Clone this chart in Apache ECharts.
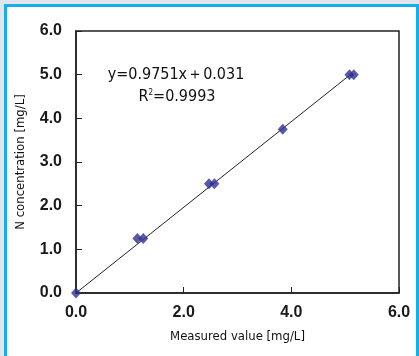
<!DOCTYPE html>
<html>
<head>
<meta charset="utf-8">
<script src="https://cdn.jsdelivr.net/npm/echarts@6/dist/echarts.min.js"></script>
<style>
  html, body { margin: 0; padding: 0; background: #dfe5ea; }
  #frame {
    position: absolute; left: 4px; top: 4px; width: 409px; height: 349px;
    border: 3px solid #17aee8; background: #fff;
  }
  #cht { position: absolute; left: -7px; top: -7px; width: 419px; height: 356px; }
</style>
</head>
<body>
<div id="frame"><div id="cht"></div></div>
<script>
const cht = echarts.init(document.getElementById('cht'));

// measured value vs. N concentration
const measured = [0.0, 1.14, 1.25, 2.47, 2.57, 3.84, 5.08, 5.16];
const nConc = [0.0, 1.25, 1.25, 2.5, 2.5, 3.75, 5.0, 5.0];
const slope = 0.9751;
const intercept = 0.031;
const fitRange = [0.0, 5.12];
const ticks = ['0.0', '1.0', '2.0', '3.0', '4.0', '5.0', '6.0'];

const points = measured.map((x, i) => [x, nConc[i]]);
const fitLine = [[fitRange[0], 0], [fitRange[1], slope * fitRange[1] + intercept]];

const cond = '"DejaVu Sans Condensed", "Liberation Sans", sans-serif';
const labelFont = { fontFamily: 'Liberation Sans', fontWeight: 'bold', fontSize: 16, color: '#1a1a1a' };
const nameFont = { fontFamily: cond, fontSize: 13, color: '#111' };

cht.setOption({
  animation: false,
  grid: {
    left: 76, right: 20, top: 31, bottom: 63,
    show: true, borderColor: '#222', borderWidth: 1.5,
  },
  xAxis: {
    type: 'value', min: 0, max: 6, interval: 2,
    name: 'Measured value [mg/L]', nameLocation: 'middle', nameGap: 37,
    nameTextStyle: nameFont,
    axisLine: { show: true, lineStyle: { color: '#222', width: 1.5 } },
    axisTick: { show: true, inside: true, length: 6, lineStyle: { color: '#222' } },
    axisLabel: Object.assign({ margin: 12, formatter: v => v.toFixed(1) }, labelFont),
    splitLine: { show: false },
  },
  yAxis: {
    type: 'value', min: 0, max: 6, interval: 1,
    name: 'N concentration [mg/L]', nameLocation: 'middle', nameGap: 49,
    nameTextStyle: nameFont,
    axisLine: { show: true, lineStyle: { color: '#222', width: 1.5 } },
    axisTick: { show: true, inside: true, length: 6, lineStyle: { color: '#222' } },
    axisLabel: Object.assign({ margin: 14, formatter: v => ticks[v] }, labelFont),
    splitLine: { show: false },
  },
  graphic: [
    {
      type: 'text', x: 176, y: 75,
      style: {
        text: 'y=0.9751x＋0.031', font: '16px ' + cond,
        fill: '#111', align: 'center', verticalAlign: 'middle',
      },
    },
    {
      type: 'text', x: 177, y: 97,
      style: {
        text: '{r|R}{s|2}{r|=0.9993}',
        fill: '#111', align: 'center', verticalAlign: 'middle',
        rich: {
          r: { fontFamily: cond, fontSize: 16, color: '#111' },
          s: { fontFamily: cond, fontSize: 8, color: '#111', verticalAlign: 'top', padding: [0, 0, 9, 0] },
        },
      },
    },
  ],
  series: [
    {
      type: 'line',
      data: fitLine,
      showSymbol: false,
      lineStyle: { color: '#222', width: 1 },
      z: 2,
    },
    {
      type: 'scatter',
      data: points,
      symbol: 'diamond',
      symbolSize: [10, 11],
      itemStyle: { color: '#2e3192' },
      z: 3,
    },
  ],
});

window.onresize = () => cht.resize();
</script>
</body>
</html>
